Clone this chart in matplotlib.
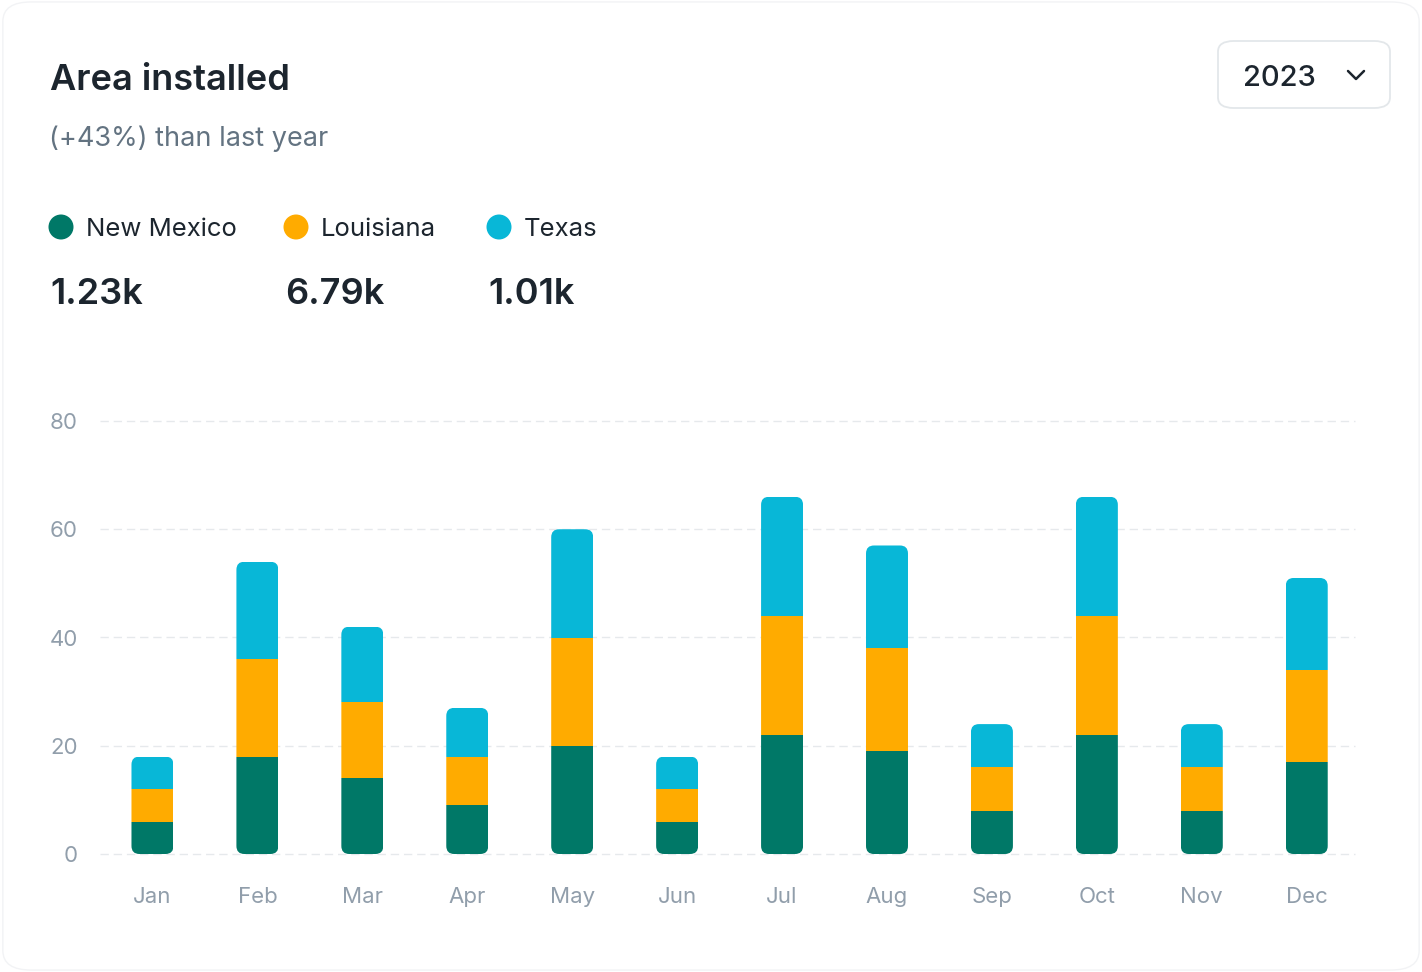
import matplotlib.pyplot as plt
from matplotlib.patches import FancyBboxPatch, Ellipse
from matplotlib.lines import Line2D
import numpy as np

months = ['Jan', 'Feb', 'Mar', 'Apr', 'May', 'Jun', 'Jul', 'Aug', 'Sep', 'Oct', 'Nov', 'Dec']
new_mexico = [6, 18, 14, 9, 20, 6, 22, 19, 8, 22, 8, 17]
louisiana = [6, 18, 14, 9, 20, 6, 22, 19, 8, 22, 8, 17]
texas = [6, 18, 14, 9, 20, 6, 22, 19, 8, 22, 8, 17]
series_names = ['New Mexico', 'Louisiana', 'Texas']
series_totals = ['1.23k', '6.79k', '1.01k']
colors = ['#007867', '#FFAB00', '#08B7D7']
yticks = [0, 20, 40, 60, 80]

plt.rcParams['font.family'] = ['Inter', 'DejaVu Sans']

W, H = 1422, 972
fig = plt.figure(figsize=(W / 100, H / 100), dpi=100)
fig.patch.set_facecolor('white')

def fx(px):
    return px / W

def fy(py):
    return 1 - py / H

# card outline
fig.patches.append(FancyBboxPatch((0.002, 0.002), 0.996, 0.996,
                                  boxstyle='round,pad=0,rounding_size=0.02',
                                  transform=fig.transFigure, facecolor='none',
                                  edgecolor='#F2F3F5', lw=1, zorder=-1))

# header
fig.text(fx(50), fy(80), 'Area installed', fontsize=26, fontweight='semibold',
         color='#1C252E', va='center', ha='left')
fig.text(fx(49), fy(139), '(+43%) than last year', fontsize=19.5,
         color='#637381', va='center', ha='left')

# year dropdown
fig.patches.append(FancyBboxPatch((fx(1218), fy(108)), fx(172), 67 / H,
                                  boxstyle='round,pad=0,rounding_size=0.011',
                                  transform=fig.transFigure, facecolor='white',
                                  edgecolor='#E3E7EA', lw=1.3, zorder=1))
fig.text(fx(1243), fy(78), '2023', fontsize=21, fontweight='medium',
         color='#1C252E', va='center', ha='left')
fig.lines.append(Line2D([fx(1348), fx(1356), fx(1364)], [fy(71), fy(79), fy(71)],
                        transform=fig.transFigure, color='#1C252E', lw=1.8,
                        solid_capstyle='round', solid_joinstyle='round'))

# legend with totals
leg_x = [61, 296, 499]
val_x = [50, 285, 488]
for name, total, c, lx, vx in zip(series_names, series_totals, colors, leg_x, val_x):
    fig.patches.append(Ellipse((fx(lx), fy(227)), 25 / W, 25 / H, transform=fig.transFigure,
                               facecolor=c, edgecolor='none'))
    fig.text(fx(lx + 25), fy(229), name, fontsize=18.5, color='#1C252E',
             va='center', ha='left')
    fig.text(fx(vx), fy(295), total, fontsize=26, fontweight='semibold',
             color='#1C252E', va='center', ha='left')

# chart
ax = fig.add_axes([fx(100), fy(854), fx(1255), (854 - 421) / H])
x = np.arange(len(months))
width = 0.4
ax.set_xlim(-0.5, 11.46)
ax.set_ylim(0, 80)

r = 0.076
aspect = 19.4
b1 = ax.bar(x, new_mexico, width, color=colors[0], zorder=3)
b2 = ax.bar(x, louisiana, width, bottom=new_mexico, color=colors[1], zorder=3)
bottom3 = np.array(new_mexico) + np.array(louisiana)
b3 = ax.bar(x, texas, width, bottom=bottom3, color=colors[2], zorder=3)
totals = bottom3 + np.array(texas)
for i in range(len(months)):
    clip = FancyBboxPatch((x[i] - width / 2, 0), width, totals[i],
                          boxstyle=f'round,pad=0,rounding_size={r}',
                          mutation_aspect=aspect, transform=ax.transData)
    for bars in (b1, b2, b3):
        bars[i].set_clip_path(clip)

for y in yticks:
    ax.axhline(y, color='#E6E9EC', lw=1, linestyle=(0, (6, 3.5)), zorder=1, clip_on=False)

ax.set_yticks(yticks)
ax.set_xticks(x)
ax.set_xticklabels(months)
ax.tick_params(axis='both', length=0, labelsize=16, labelcolor='#919EAB')
ax.tick_params(axis='y', pad=16)
ax.tick_params(axis='x', pad=23.5)
for s in ax.spines.values():
    s.set_visible(False)
ax.set_facecolor('none')

plt.savefig('out.png', dpi=100)
